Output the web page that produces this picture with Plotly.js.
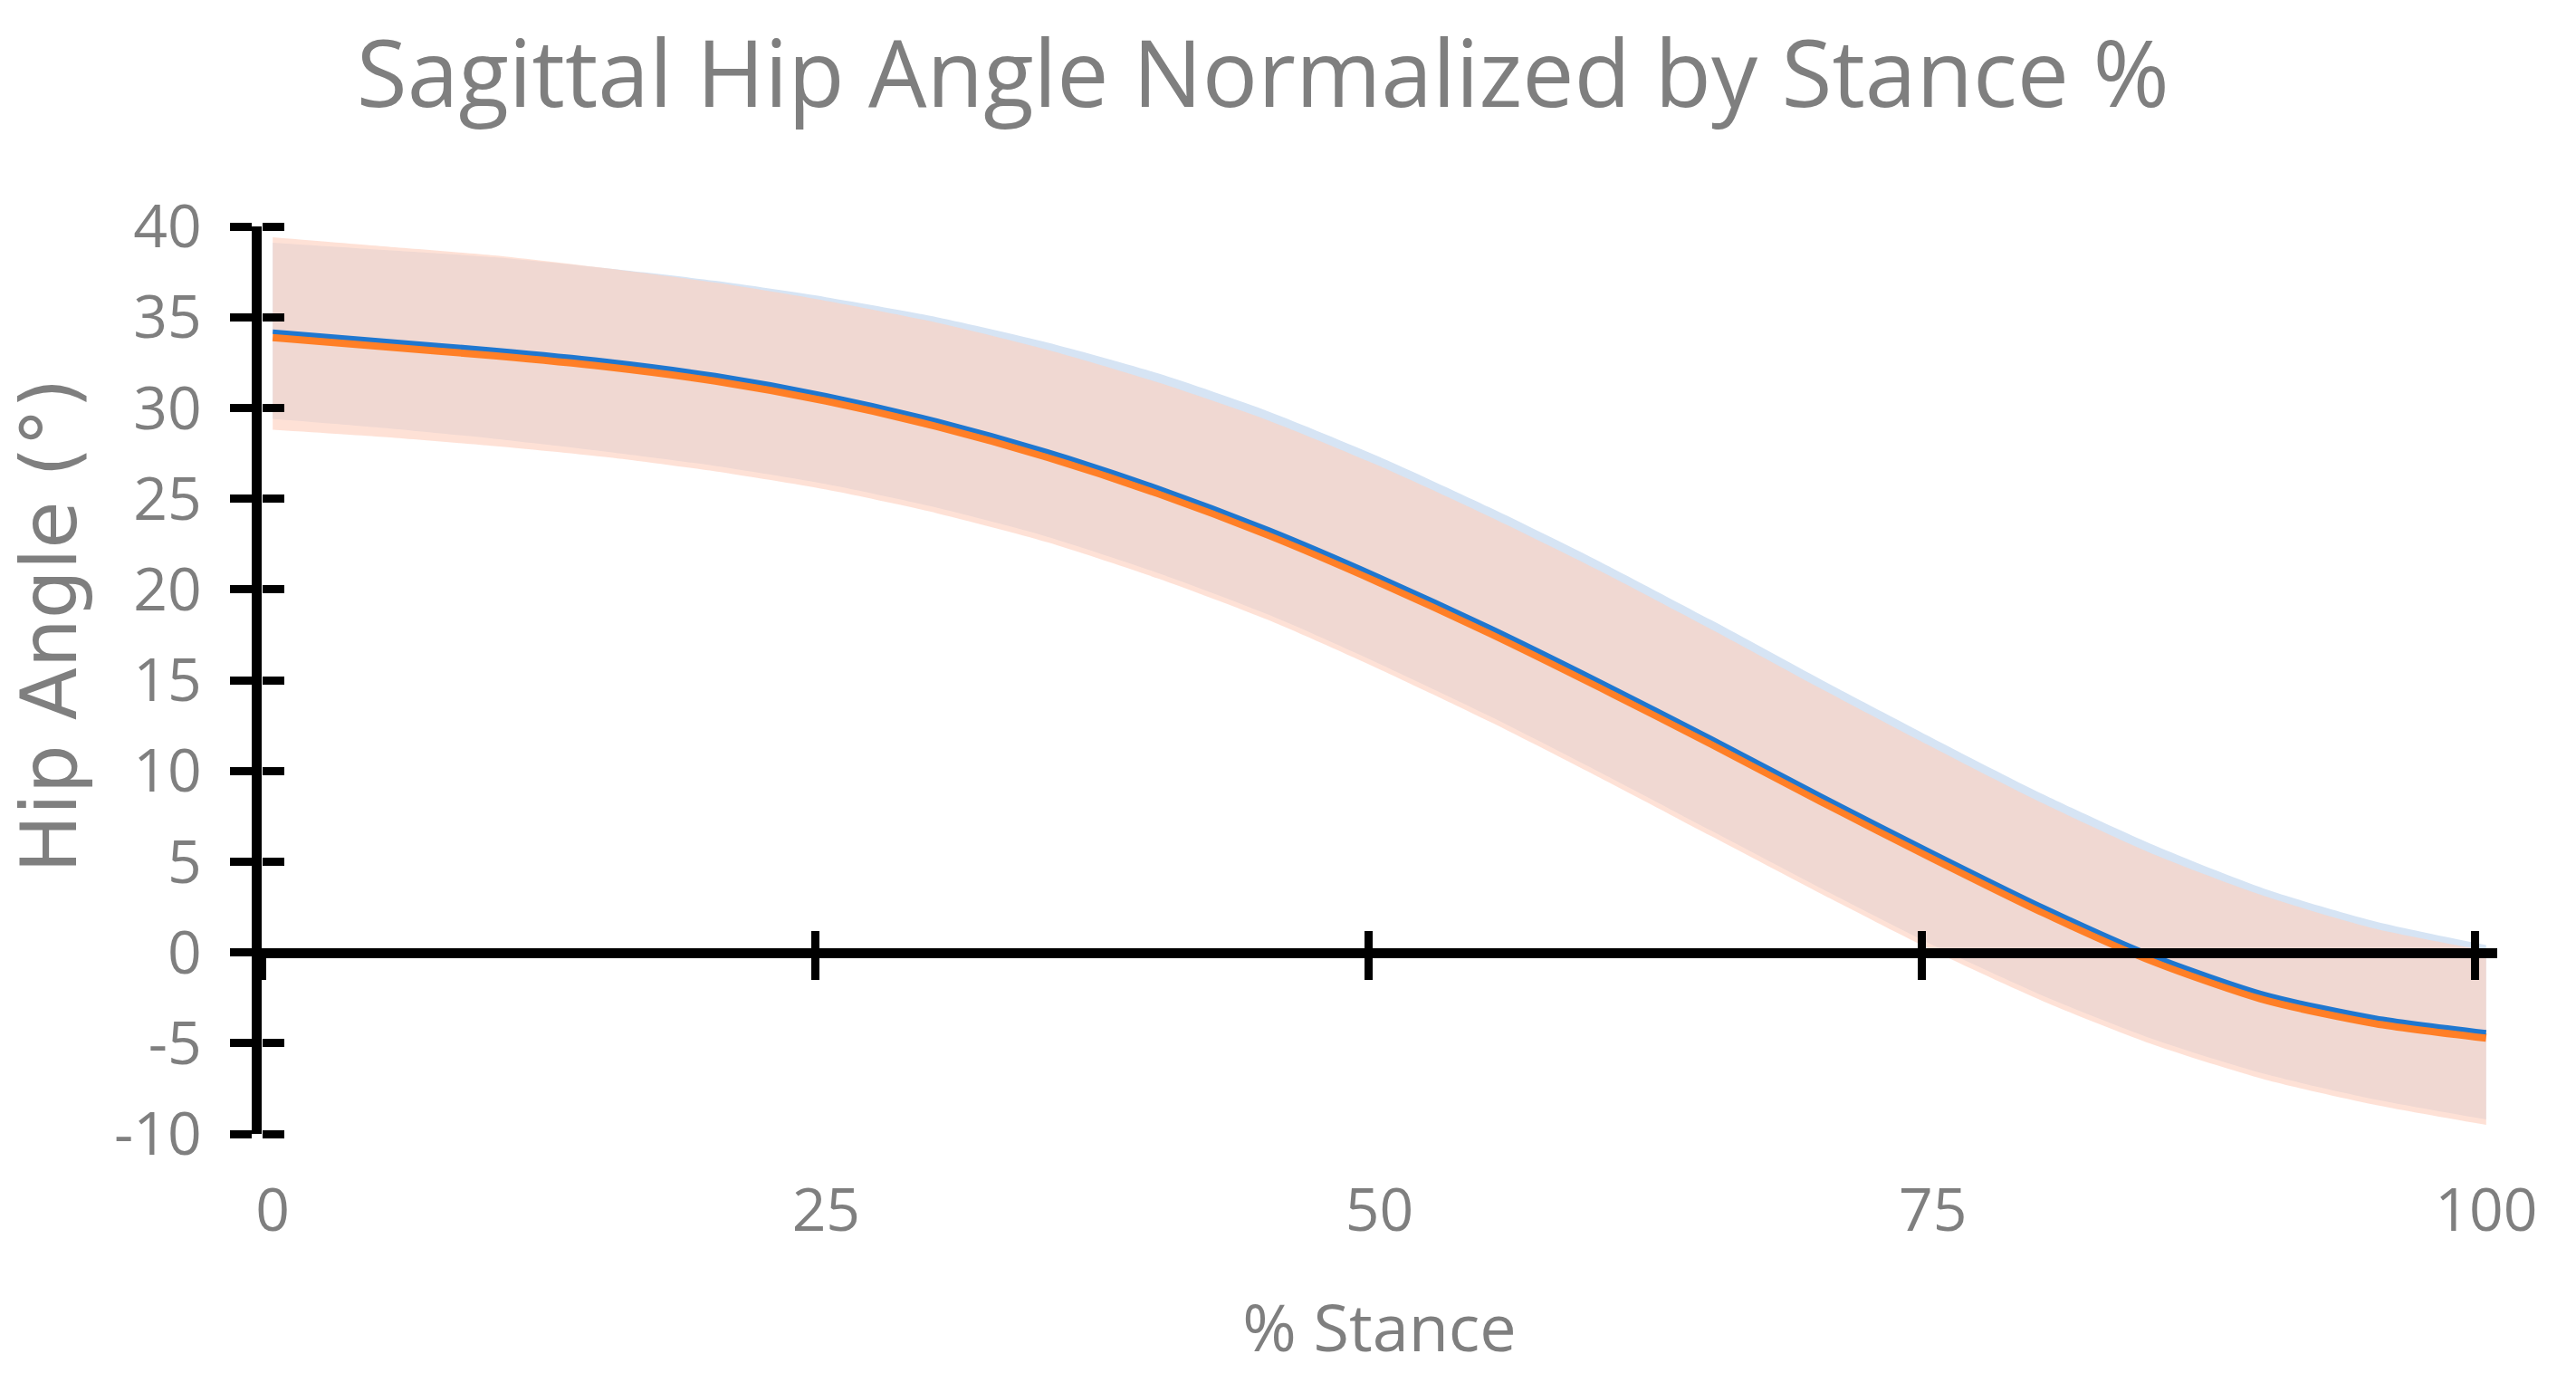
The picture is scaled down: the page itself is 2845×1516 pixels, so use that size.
<!DOCTYPE html>
<html>
<head>
<meta charset="utf-8">
<script src="https://cdn.plot.ly/plotly-3.0.1.min.js"></script>
<style>html,body{margin:0;padding:0;background:#fff;}#chart{width:2845px;height:1516px;}</style>
</head>
<body>
<div id="chart"></div>
<script>
// % stance sample points
const stance = [0,5,10,15,20,25,30,35,40,45,50,55,60,65,70,75,80,85,90,95,100];
// Series 1 (blue) mean and SD band edges (degrees)
const blueMean  = [34.2,33.7,33.2,32.6,31.8,30.7,29.3,27.6,25.6,23.3,20.7,17.9,14.9,11.8,8.6,5.5,2.5,-0.2,-2.3,-3.6,-4.4];
const blueUpper = [39.1,38.7,38.3,37.7,37.0,36.1,35.0,33.6,31.9,29.8,27.3,24.5,21.5,18.3,15.0,11.8,8.7,5.9,3.5,1.7,0.4];
const blueLower = [29.4,28.9,28.3,27.6,26.8,25.8,24.5,22.9,20.9,18.6,15.9,13.0,9.9,6.7,3.5,0.4,-2.4,-4.8,-6.7,-8.1,-9.2];
// Series 2 (orange) mean and SD band edges (degrees)
const orangeMean  = [33.9,33.4,32.9,32.3,31.5,30.4,29.0,27.3,25.3,23.0,20.4,17.6,14.6,11.5,8.3,5.2,2.2,-0.5,-2.6,-3.9,-4.7];
const orangeUpper = [39.4,38.9,38.4,37.7,36.9,35.9,34.7,33.2,31.4,29.3,26.8,24.0,21.0,17.8,14.5,11.3,8.2,5.4,3.1,1.3,0.1];
const orangeLower = [28.8,28.4,27.9,27.3,26.5,25.5,24.2,22.6,20.6,18.3,15.6,12.7,9.6,6.4,3.2,0.1,-2.7,-5.1,-7.0,-8.4,-9.5];
// axis ticks
const xTickLabels = ['0','25','50','75','100'];
const xLabelVals = [0,25,50,75,100];
const xTickMarks = [-0.5,24.5,49.5,74.5,99.5];
const yTickVals = [-10,-5,0,5,10,15,20,25,30,35,40];
const yTickLabels = ['-10','-5','0','5','10','15','20','25','30','35','40'];

const grey = '#7f7f7f';
const blue = 'rgb(31,119,208)';
const orange = 'rgb(255,127,39)';
const sp = {shape:'spline', smoothing:0.7};
const nl = () => Object.assign({width:0, color:'rgba(0,0,0,0)'}, sp);

const traces = [
  {x: stance, y: blueUpper, mode:'lines', line:nl(), hoverinfo:'skip', showlegend:false},
  {x: stance, y: blueLower, mode:'lines', line:nl(), fill:'tonexty', fillcolor:'rgb(214,228,244)', hoverinfo:'skip', showlegend:false},
  {x: stance, y: orangeUpper, mode:'lines', line:nl(), hoverinfo:'skip', showlegend:false},
  {x: stance, y: orangeLower, mode:'lines', line:nl(), fill:'tonexty', fillcolor:'rgba(253,209,192,0.65)', hoverinfo:'skip', showlegend:false},
  {x: stance, y: orangeMean, mode:'lines', line:Object.assign({width:9, color:orange}, sp), showlegend:false},
  {x: stance, y: blueMean, mode:'lines', line:Object.assign({width:5, color:blue}, sp), showlegend:false},
  // invisible anchors so that the extra tick axes are drawn
  {x:[0], y:[0], xaxis:'x2', mode:'markers', marker:{opacity:0}, hoverinfo:'skip', showlegend:false},
  {x:[0], y:[0], xaxis:'x3', mode:'markers', marker:{opacity:0}, hoverinfo:'skip', showlegend:false},
  {x:[0], y:[0], yaxis:'y2', mode:'markers', marker:{opacity:0}, hoverinfo:'skip', showlegend:false}
];

const xr = [-0.5, 100.5];
const yr = [-10, 40];

const layout = {
  width: 2845, height: 1516,
  margin: {l:289, r:87, t:250, b:264},
  paper_bgcolor:'#fff', plot_bgcolor:'rgba(0,0,0,0)',
  showlegend:false,
  title: {text:'Sagittal Hip Angle Normalized by Stance %', font:{family:'Open Sans', size:102, color:grey},
          x:0.4903, xref:'container', xanchor:'center', y:0.946, yref:'container', yanchor:'middle'},
  xaxis: {range:xr, tickvals:xLabelVals, ticktext:xTickLabels, ticks:'', showline:false, showgrid:false, zeroline:false,
          tickfont:{family:'Open Sans', size:66, color:grey}, ticklabelstandoff:40,
          title:{text:'% Stance', font:{family:'Open Sans', size:72, color:grey}, standoff:64}, automargin:false},
  xaxis2: {range:xr, overlaying:'x', anchor:'free', position:0.2, tickvals:xTickMarks, ticks:'outside', ticklen:24, tickwidth:9, tickcolor:'#000',
           showticklabels:false, showline:true, linewidth:11, linecolor:'#000', showgrid:false, zeroline:false},
  xaxis3: {range:xr, overlaying:'x', anchor:'free', position:0.2, tickvals:xTickMarks, ticks:'inside', ticklen:24, tickwidth:9, tickcolor:'#000',
           showticklabels:false, showline:false, showgrid:false, zeroline:false},
  yaxis: {range:yr, tickvals:yTickVals, ticktext:yTickLabels, ticks:'outside', ticklen:24, tickwidth:9, tickcolor:'#000', showline:true, linewidth:11, linecolor:'#000',
          showgrid:false, zeroline:false, tickfont:{family:'Open Sans', size:66, color:grey}, ticklabelstandoff:18, automargin:false},
  yaxis2: {range:yr, overlaying:'y', anchor:'free', position:0, side:'right', tickvals:yTickVals, ticks:'outside', ticklen:24, tickwidth:9, tickcolor:'#000',
           showticklabels:false, showline:false, showgrid:false, zeroline:false},
  annotations: [
    {text:'Hip Angle (°)', textangle:-90, xref:'paper', yref:'paper', x:-0.0948, y:0.56, xanchor:'center', yanchor:'middle',
     showarrow:false, font:{family:'DejaVu Sans', size:85, color:grey}}
  ]
};

Plotly.newPlot('chart', traces, layout, {staticPlot:true, displayModeBar:false});
</script>
</body>
</html>
